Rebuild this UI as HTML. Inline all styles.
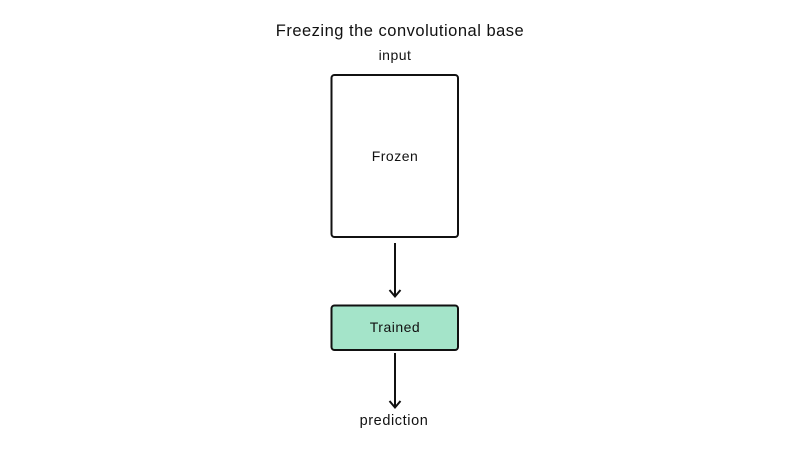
<!DOCTYPE html>
<html><head><meta charset="utf-8"><style>
html,body{margin:0;padding:0;background:#fff;}
</style></head><body>
<svg width="800" height="450" viewBox="0 0 800 450" xmlns="http://www.w3.org/2000/svg" font-family="Liberation Sans, sans-serif">
<rect width="800" height="450" fill="#fff"/>
<text x="400" y="36" font-size="16.5" letter-spacing="0.5" text-anchor="middle" fill="#111">Freezing the convolutional base</text>
<text x="395" y="60" font-size="14" letter-spacing="0.5" text-anchor="middle" fill="#111">input</text>
<rect x="331.5" y="75" width="126.5" height="162" rx="3" fill="#fff" stroke="#111" stroke-width="2"/>
<text x="395" y="161" font-size="14" letter-spacing="0.5" text-anchor="middle" fill="#111">Frozen</text>
<line x1="395" y1="243" x2="395" y2="296" stroke="#111" stroke-width="2"/>
<polyline points="389.5,290 395,296.5 400.5,290" fill="none" stroke="#111" stroke-width="2"/>
<rect x="331.5" y="305.5" width="126.5" height="44.5" rx="3" fill="#a4e4c9" stroke="#111" stroke-width="2"/>
<text x="395" y="332" font-size="14" letter-spacing="0.5" text-anchor="middle" fill="#111">Trained</text>
<line x1="395" y1="353" x2="395" y2="407" stroke="#111" stroke-width="2"/>
<polyline points="389.5,401 395,407.5 400.5,401" fill="none" stroke="#111" stroke-width="2"/>
<text x="394" y="425" font-size="14.5" letter-spacing="0.6" text-anchor="middle" fill="#111">prediction</text>
</svg>
</body></html>
